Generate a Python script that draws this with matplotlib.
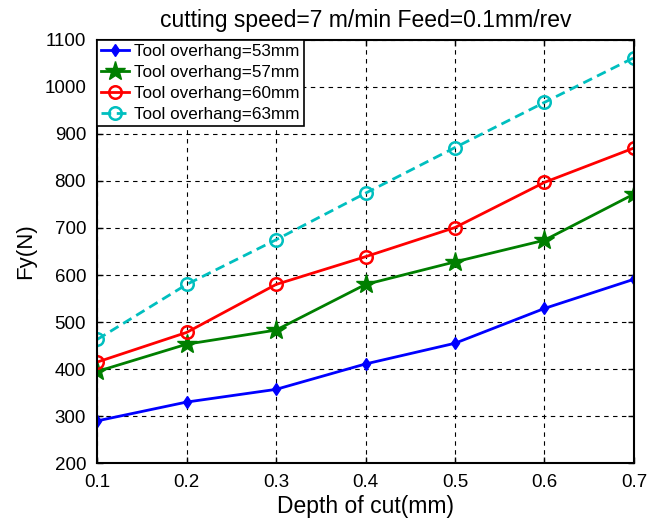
import matplotlib
matplotlib.use("Agg")
import matplotlib.pyplot as plt

plt.rcParams['font.family'] = ['Liberation Sans', 'DejaVu Sans']

depth = [0.1, 0.2, 0.3, 0.4, 0.5, 0.6, 0.7]
fy_53 = [290, 330, 357, 411, 455, 529, 591]
fy_57 = [395, 453, 483, 580, 628, 674, 772]
fy_60 = [415, 478, 580, 639, 701, 797, 870]
fy_63 = [463, 580, 675, 774, 871, 967, 1062]

labels = ['Tool overhang=53mm', 'Tool overhang=57mm',
          'Tool overhang=60mm', 'Tool overhang=63mm']

fig = plt.figure(figsize=(6.61, 5.24), dpi=100)
ax = fig.add_axes([0.147, 0.116, 0.812, 0.808])

ax.plot(depth, fy_53, color='#0000ff', lw=2, marker='d', ms=6,
        label=labels[0])
ax.plot(depth, fy_57, color='#007f00', lw=2, marker='*', ms=15,
        label=labels[1])
ax.plot(depth, fy_60, color='#ff0000', lw=2, marker='o', ms=9,
        mfc='none', mew=1.8, label=labels[2])
ax.plot(depth, fy_63, color='#00bfbf', lw=2, ls='--', dashes=(3.5, 2),
        marker='o', ms=9, mfc='none', mew=1.8, label=labels[3])

ax.set_xlim(0.1, 0.7)
ax.set_ylim(200, 1100)
ax.set_xticks(depth)
ax.set_xticklabels(['0.1', '0.2', '0.3', '0.4', '0.5', '0.6', '0.7'])
ax.set_yticks(range(200, 1101, 100))
ax.tick_params(direction='in', labelsize=13.5, length=4, width=1,
               top=True, right=True, pad=8)
ax.grid(True, color='black', ls=(0, (4, 4)), lw=0.8)
for s in ax.spines.values():
    s.set_linewidth(1.5)

ax.set_xlabel('Depth of cut(mm)', fontsize=16.5, labelpad=3)
ax.set_ylabel('Fy(N)', fontsize=16, labelpad=6)
ax.set_title('cutting speed=7 m/min Feed=0.1mm/rev', fontsize=16.5, pad=9)

leg = ax.legend(loc='upper left', fontsize=12.3, frameon=True, fancybox=False,
                edgecolor='black', framealpha=1, borderpad=0.25,
                labelspacing=0.34, handlelength=1.6, handletextpad=0.3,
                borderaxespad=0.0)
leg.get_frame().set_linewidth(1.2)

fig.savefig('out.png', dpi=100)
